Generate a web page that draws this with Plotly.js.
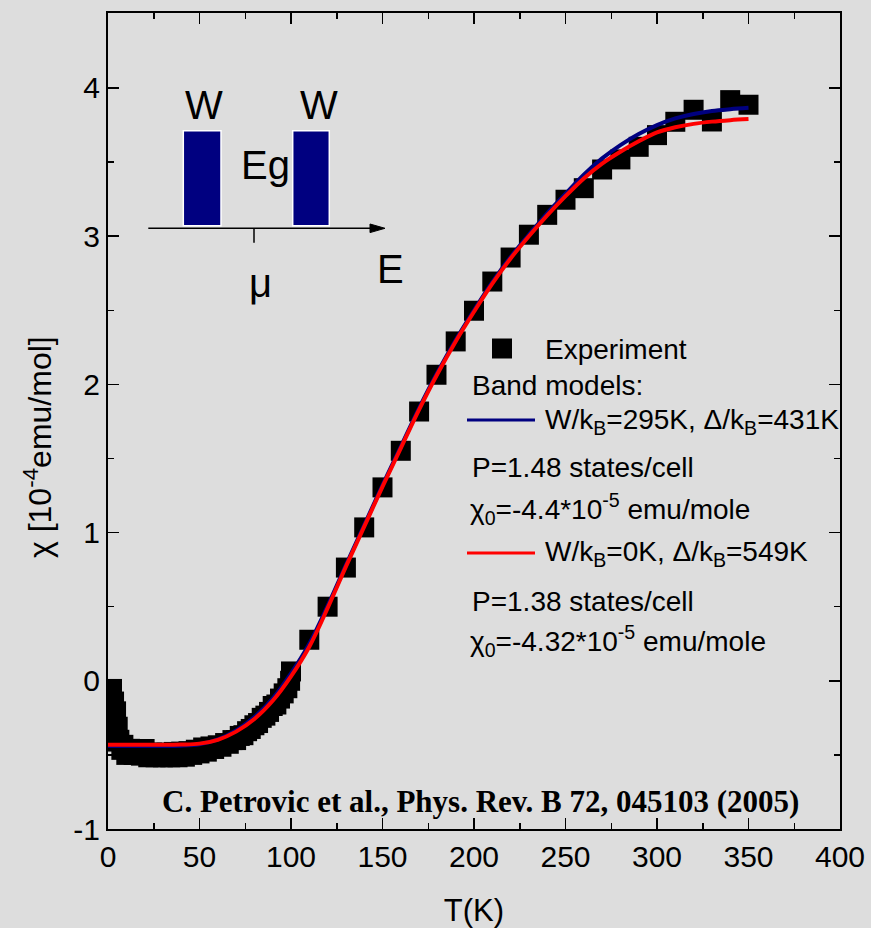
<!DOCTYPE html>
<html>
<head>
<meta charset="utf-8">
<script src="https://cdn.plot.ly/plotly-3.0.1.min.js"></script>
<style>html,body{margin:0;padding:0;background:#dddddd;}#chart{width:871px;height:928px;}</style>
</head>
<body>
<div id="chart"></div>
<script>
// ---- Data ----
const expT = [2.0, 2.0, 2.1, 2.2, 3.3, 4.4, 5.3, 6.2, 7.3, 8.4,
  10, 12, 14, 16, 18, 20, 22, 24, 26, 28, 30, 32, 34, 36, 38, 40, 42, 44, 46, 48,
  50, 52, 54, 56, 58, 60, 62, 64, 66, 68, 70, 72, 74, 76, 78, 80, 82, 84, 86, 88,
  90, 92, 94, 96, 98, 99.5, 100, 110, 120, 130, 140, 150, 160, 170, 179.5, 190,
  200, 210, 220, 230, 240, 250, 260, 270, 280, 290, 300, 310, 320, 330, 340, 350];
const expChi = [-0.41, -0.30, -0.18, -0.055, -0.14, -0.206, -0.31, -0.398, -0.466, -0.432,
  -0.50, -0.459, -0.50, -0.462, -0.505, -0.46, -0.516, -0.484, -0.516, -0.486, -0.516, -0.485, -0.516, -0.48, -0.516, -0.478, -0.512, -0.475, -0.50, -0.465,
  -0.49, -0.45, -0.478, -0.443, -0.46, -0.435, -0.445, -0.42, -0.425, -0.40, -0.40, -0.372, -0.367, -0.34, -0.325, -0.30, -0.285, -0.25, -0.235, -0.21,
  -0.17, -0.16, -0.12, -0.085, -0.05, 0.0, 0.063, 0.277, 0.50, 0.764, 1.035, 1.305, 1.552, 1.817, 2.065, 2.29,
  2.497, 2.694, 2.856, 3.01, 3.144, 3.246, 3.324, 3.45, 3.518, 3.603, 3.682, 3.772, 3.853, 3.774, 3.918, 3.887];

const fitT = [0, 10, 20, 30, 40, 50, 60, 70, 80, 90, 100, 110, 120, 130, 140, 150, 160, 170,
  180, 190, 200, 210, 220, 230, 240, 250, 260, 270, 280, 290, 300, 310, 320, 330, 340, 350];
const chiBlue = [-0.44, -0.44, -0.44, -0.44, -0.438, -0.428, -0.395, -0.335, -0.245, -0.12, 0.05, 0.25, 0.505, 0.78, 1.05, 1.32, 1.58, 1.84,
  2.08, 2.30, 2.50, 2.69, 2.86, 3.01, 3.155, 3.285, 3.415, 3.525, 3.615, 3.69, 3.75, 3.795, 3.825, 3.845, 3.857, 3.866];
const chiRed = [-0.432, -0.432, -0.432, -0.432, -0.430, -0.424, -0.398, -0.343, -0.258, -0.135, 0.03, 0.23, 0.49, 0.77, 1.04, 1.31, 1.57, 1.83,
  2.07, 2.29, 2.49, 2.68, 2.85, 3.00, 3.14, 3.27, 3.39, 3.49, 3.57, 3.64, 3.70, 3.735, 3.758, 3.773, 3.783, 3.79];

const xTickVals = [0, 50, 100, 150, 200, 250, 300, 350, 400];
const xTickText = ["0", "50", "100", "150", "200", "250", "300", "350", "400"];
const yTickVals = [-1, 0, 1, 2, 3, 4];
const yTickText = ["-1", "0", "1", "2", "3", "4"];

const legendLines = [
  "Experiment",
  "Band models:",
  "W/k<sub>B</sub>=295K, \u0394/k<sub>B</sub>=431K",
  "P=1.48 states/cell",
  "\u03c7<sub>0</sub>=-4.4*10<sup>-5</sup> emu/mole",
  "W/k<sub>B</sub>=0K, \u0394/k<sub>B</sub>=549K",
  "P=1.38 states/cell",
  "\u03c7<sub>0</sub>=-4.32*10<sup>-5</sup> emu/mole"
];
const citation = "C. Petrovic et al., Phys. Rev. B 72, 045103 (2005)";

// ---- Layout helpers (pixel -> paper) ----
const PL = 108, PR = 840, PT = 13, PB = 829;
const px = x => (x - PL) / (PR - PL);
const py = y => (PB - y) / (PB - PT);

const SANS = "Liberation Sans, Arial, sans-serif";
const BG = "#dddddd";

const traces = [
  {x: expT, y: expChi, type: "scatter", mode: "markers", name: "Experiment",
   marker: {symbol: "square", size: 20, color: "#000000", line: {width: 0}}, showlegend: false},
  {x: fitT, y: chiBlue, type: "scatter", mode: "lines", name: "W/kB=295K",
   line: {color: "#000080", width: 4, shape: "spline"}, showlegend: false},
  {x: fitT, y: chiRed, type: "scatter", mode: "lines", name: "W/kB=0K",
   line: {color: "#ff0000", width: 4, shape: "spline"}, showlegend: false}
];

function ann(text, x, y, size, opts) {
  return Object.assign({text: text, x: px(x), y: py(y), xref: "paper", yref: "paper",
    showarrow: false, xanchor: "left", yanchor: "middle",
    font: {family: SANS, size: size, color: "#000"}}, opts || {});
}

const legY = [349, 385, 421, 467, 509, 553, 601, 641];
const legX = [543, 470, 543, 470, 468, 543, 470, 468];
const annotations = legendLines.map((t, i) => ann(t, legX[i], legY[i], 28));

// inset labels
annotations.push(ann("W", 204, 105, 40, {xanchor: "center"}));
annotations.push(ann("W", 319, 105, 40, {xanchor: "center"}));
annotations.push(ann("Eg", 265, 165, 40, {xanchor: "center"}));
annotations.push(ann("\u03bc", 260, 283, 40, {xanchor: "center"}));
annotations.push(ann("E", 390, 269, 40, {xanchor: "center"}));
// citation
annotations.push(ann(citation, 481, 801, 31, {xanchor: "center",
  font: {family: "Liberation Serif, Times New Roman, serif", size: 31, color: "#000", weight: "bold"}}));
// y axis title
annotations.push(ann("\u03c7 [10<sup>-4</sup>emu/mol]", 38, 447, 32, {xanchor: "center", textangle: -90}));

const shapes = [
  // legend symbols
  {type: "rect", xref: "paper", yref: "paper", x0: px(492), x1: px(512), y0: py(358.5), y1: py(338.5),
   fillcolor: "#000", line: {width: 0}},
  {type: "line", xref: "paper", yref: "paper", x0: px(467), x1: px(535), y0: py(420), y1: py(420),
   line: {color: "#000080", width: 3}},
  {type: "line", xref: "paper", yref: "paper", x0: px(467), x1: px(535), y0: py(553), y1: py(553),
   line: {color: "#ff0000", width: 3}},
  // inset band schematic
  {type: "rect", xref: "paper", yref: "paper", x0: px(183.3), x1: px(221), y0: py(225.7), y1: py(130.7),
   fillcolor: "#000080", line: {color: "#ffffff", width: 1.5}},
  {type: "rect", xref: "paper", yref: "paper", x0: px(292.7), x1: px(329.3), y0: py(225.7), y1: py(130.7),
   fillcolor: "#000080", line: {color: "#ffffff", width: 1.5}},
  {type: "line", xref: "paper", yref: "paper", x0: px(148.3), x1: px(372), y0: py(228.3), y1: py(228.3),
   line: {color: "#000", width: 1.5}},
  {type: "path", xref: "paper", yref: "paper",
   path: "M " + px(370) + "," + py(224) + " L " + px(385) + "," + py(228.3) + " L " + px(370) + "," + py(232.6) + " Z",
   fillcolor: "#000", line: {color: "#000", width: 1}},
  {type: "line", xref: "paper", yref: "paper", x0: px(254), x1: px(254), y0: py(228.3), y1: py(242.7),
   line: {color: "#000", width: 1.5}}
];

const axisCommon = {
  showline: true, linecolor: "#000", linewidth: 2, mirror: "ticks",
  ticks: "inside", ticklen: 11, tickwidth: 1.5, tickcolor: "#000",
  showgrid: false, zeroline: false,
  tickfont: {family: SANS, size: 30, color: "#000"}
};

const layout = {
  width: 871, height: 928,
  margin: {l: PL, r: 871 - PR, t: PT, b: 928 - PB},
  paper_bgcolor: BG, plot_bgcolor: BG,
  showlegend: false,
  xaxis: Object.assign({}, axisCommon, {
    range: [0, 400], tickmode: "array", tickvals: xTickVals, ticktext: xTickText,
    minor: {dtick: 25, tick0: 0, ticks: "inside", ticklen: 6, tickwidth: 1.5, tickcolor: "#000"},
    title: {text: "T(K)", font: {family: SANS, size: 31, color: "#000"}, standoff: 27}
  }),
  yaxis: Object.assign({}, axisCommon, {
    range: [-1, 4.506], tickmode: "array", tickvals: yTickVals, ticktext: yTickText,
    minor: {dtick: 0.5, tick0: 0, ticks: "inside", ticklen: 6, tickwidth: 1.5, tickcolor: "#000"}
  }),
  annotations: annotations,
  shapes: shapes
};

Plotly.newPlot("chart", traces, layout, {displayModeBar: false, staticPlot: true});
</script>
</body>
</html>
